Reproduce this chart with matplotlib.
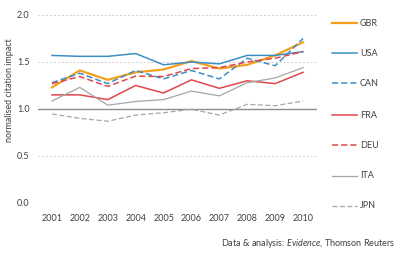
import numpy as np
import matplotlib
matplotlib.use('Agg')
import matplotlib.pyplot as plt

plt.rcParams['font.family'] = ['Lato', 'DejaVu Sans']
plt.rcParams['mathtext.fontset'] = 'custom'
plt.rcParams['mathtext.it'] = 'Lato:italic'
plt.rcParams['mathtext.rm'] = 'Lato'

# data
years = ['2001', '2002', '2003', '2004', '2005', '2006', '2007', '2008', '2009', '2010']
gbr = [1.23, 1.41, 1.31, 1.39, 1.42, 1.51, 1.43, 1.47, 1.57, 1.71]
usa = [1.57, 1.56, 1.56, 1.59, 1.47, 1.50, 1.48, 1.57, 1.57, 1.61]
can = [1.28, 1.38, 1.27, 1.41, 1.32, 1.41, 1.32, 1.54, 1.46, 1.75]
fra = [1.15, 1.15, 1.10, 1.25, 1.17, 1.31, 1.22, 1.30, 1.27, 1.39]
deu = [1.27, 1.345, 1.24, 1.35, 1.345, 1.43, 1.44, 1.50, 1.54, 1.61]
ita = [1.085, 1.23, 1.04, 1.08, 1.10, 1.19, 1.14, 1.28, 1.33, 1.44]
jpn = [0.947, 0.90, 0.87, 0.935, 0.96, 0.997, 0.935, 1.05, 1.035, 1.085]

series = [
    ('GBR', gbr, '#F5A01A', '-', 1.6),
    ('USA', usa, '#3D8FC6', '-', 1.1),
    ('CAN', can, '#3D8FC6', '--', 1.1),
    ('FRA', fra, '#E0474C', '-', 1.1),
    ('DEU', deu, '#E0474C', '--', 1.1),
    ('ITA', ita, '#A6A6A6', '-', 0.9),
    ('JPN', jpn, '#A6A6A6', '--', 0.9),
]

fig = plt.figure(figsize=(4.0, 2.54), dpi=100)
ax = fig.add_axes([0.095, 0.2008, 0.6975, 0.7402])

x = np.arange(len(years))

# gridlines
for g in [0.0, 0.5, 1.5, 2.0]:
    ax.axhline(g, color='#D0D0D0', lw=0.7, ls=(0, (2, 2)), zorder=0)
ax.axhline(1.0, color='#8C8C8C', lw=1.0, zorder=1)

for name, vals, col, ls, lw in series:
    dash = (0, (4, 2)) if ls == '--' else '-'
    ax.plot(x, vals, color=col, ls=dash, lw=lw, label=name, zorder=2)

ax.set_xlim(-0.5, len(years) - 0.5)
ax.set_ylim(0, 2.0)
ax.set_xticks(x)
ax.set_xticklabels(years)
ax.set_yticks([0.0, 0.5, 1.0, 1.5, 2.0])
ax.set_yticklabels(['0.0', '0.5', '1.0', '1.5', '2.0'])
ax.tick_params(axis='both', length=0, labelsize=6.5, colors='#404040')
ax.tick_params(axis='x', pad=8)
ax.tick_params(axis='y', pad=6)
for s in ax.spines.values():
    s.set_visible(False)

ax.set_ylabel('normalised citation impact', fontsize=6.5, color='#404040')
ax.yaxis.set_label_coords(-0.085, 0.6)

# legend on the right, one entry per row
leg_y = [23, 53, 83, 115, 145, 176, 206]
for (name, vals, col, ls, lw), py in zip(series, leg_y):
    yf = 1 - py / 254
    dash = (0, (4, 2)) if ls == '--' else '-'
    fig.add_artist(plt.Line2D([332 / 400, 357 / 400], [yf, yf], color=col,
                              ls=dash, lw=lw, transform=fig.transFigure))
    fig.text(360 / 400, yf, name, fontsize=6.5, color='#404040', va='center', ha='left')

# source note
fig.text(395 / 400, 1 - 243 / 254, r'Data & analysis: $\mathit{Evidence}$, Thomson Reuters',
         fontsize=6.5, color='#404040', va='center', ha='right')

fig.savefig('out.png', dpi=100)
